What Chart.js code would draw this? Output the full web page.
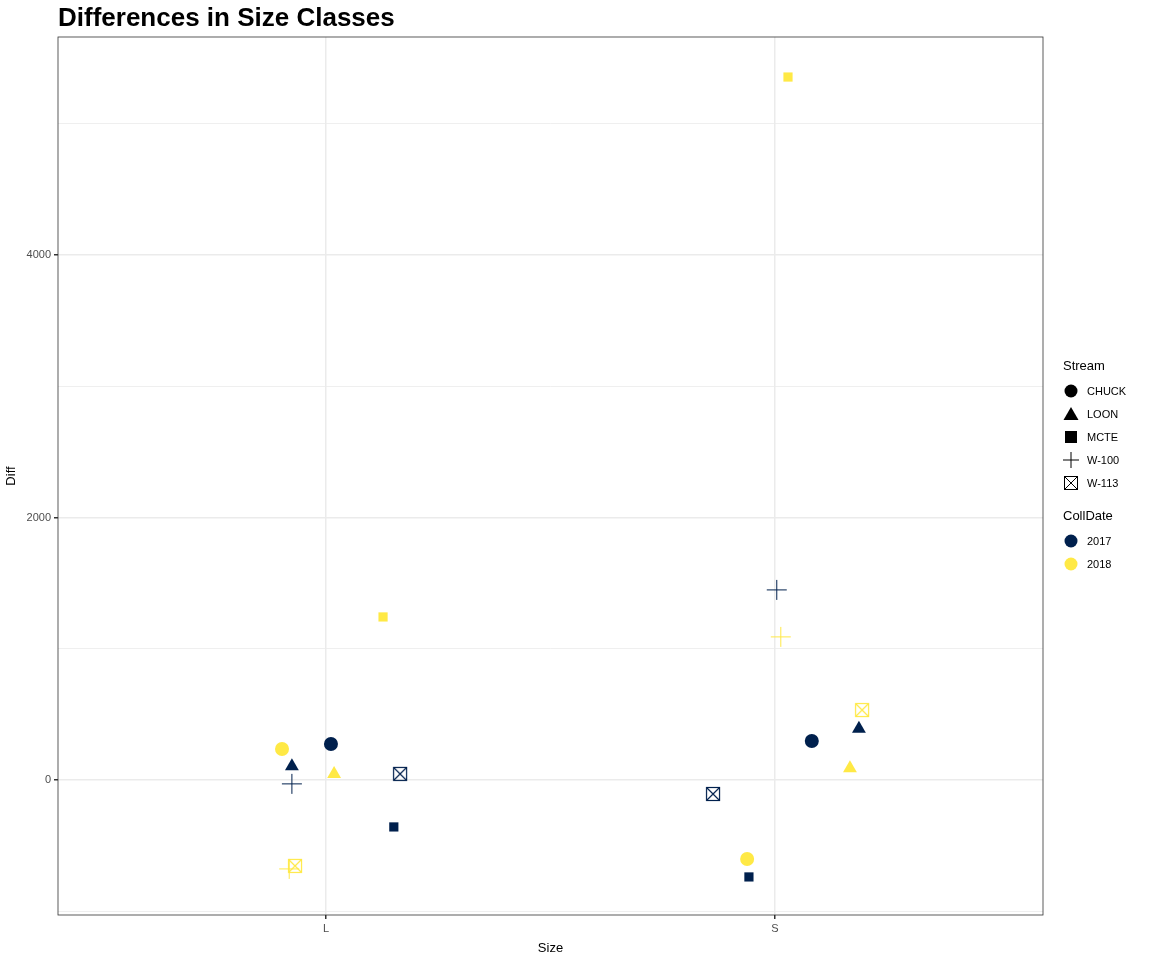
<!DOCTYPE html>
<html>
<head>
<meta charset="utf-8">
<script src="https://cdn.jsdelivr.net/npm/chart.js@4"></script>
<style>
  body { margin: 0; background: #fff; font-family: "Liberation Sans", Arial, sans-serif; }
  #wrap { position: relative; width: 1152px; height: 960px; }
  #title { position: absolute; left: 58px; top: 2px; font-size: 26px; font-weight: bold; color: #000; }
  #legend { position: absolute; left: 1063px; top: 358px; font-size: 11px; color: #000; }
  .lh { font-size: 13px; margin-bottom: 6px; }
  .li { height: 23px; display: flex; align-items: center; }
  .li svg { margin-right: 8px; }
</style>
</head>
<body>
<div id="wrap">
  <canvas id="chart" width="1152" height="960"></canvas>
  <div id="title">Differences in Size Classes</div>
  <div id="legend"></div>
</div>
<script>
const categories = ['L', 'S'];
const streams = ['CHUCK', 'LOON', 'MCTE', 'W-100', 'W-113'];
const years = ['2017', '2018'];
const yearColors = ['#00204D', '#FFE945'];

// jittered x position (1 = L, 2 = S) and Diff, per stream, per size class
const x2017 = { 'CHUCK': [1.011, 2.082], 'LOON': [0.924, 2.187], 'MCTE': [1.151, 1.942], 'W-100': [0.924, 2.004], 'W-113': [1.165, 1.862] };
const y2017 = { 'CHUCK': [274, 297], 'LOON': [105, 390], 'MCTE': [-358, -739], 'W-100': [-30, 1448], 'W-113': [46, -107] };
const x2018 = { 'CHUCK': [0.902, 1.938], 'LOON': [1.018, 2.167], 'MCTE': [1.127, 2.029], 'W-100': [0.918, 2.013], 'W-113': [0.931, 2.194] };
const y2018 = { 'CHUCK': [236, -602], 'LOON': [45, 90], 'MCTE': [1242, 5356], 'W-100': [-678, 1090], 'W-113': [-655, 533] };

const yTicks = [-1000, 0, 1000, 2000, 3000, 4000, 5000];
const yLabels = [0, 2000, 4000];

function boxX(color) {
  const c = document.createElement('canvas');
  c.width = 16; c.height = 16;
  const g = c.getContext('2d');
  g.strokeStyle = color; g.lineWidth = 1.2;
  g.strokeRect(1.5, 1.5, 13, 13);
  g.beginPath(); g.moveTo(1.5, 1.5); g.lineTo(14.5, 14.5);
  g.moveTo(14.5, 1.5); g.lineTo(1.5, 14.5); g.stroke();
  return c;
}

const styles = { 'CHUCK': 'circle', 'LOON': 'triangle', 'MCTE': 'rect', 'W-100': 'cross', 'W-113': null };
const radii = { 'CHUCK': 7, 'LOON': 8, 'MCTE': 6.5, 'W-100': 10, 'W-113': 8 };

const datasets = [];
years.forEach((yr, yi) => {
  const xs = yi === 0 ? x2017 : x2018;
  const ys = yi === 0 ? y2017 : y2018;
  const col = yearColors[yi];
  streams.forEach(s => {
    datasets.push({
      label: s + ' ' + yr,
      data: xs[s].map((x, i) => ({ x: x, y: ys[s][i] })),
      pointStyle: styles[s] || boxX(col),
      pointRadius: radii[s],
      backgroundColor: col,
      borderColor: col,
      borderWidth: styles[s] === 'cross' ? 1 : 0
    });
  });
});

const panelBorder = {
  id: 'panelBorder',
  afterDraw(chart) {
    const a = chart.chartArea, g = chart.ctx;
    g.save(); g.strokeStyle = '#333'; g.lineWidth = 0.8;
    g.strokeRect(a.left, a.top, a.right - a.left, a.bottom - a.top);
    g.restore();
  }
};

new Chart(document.getElementById('chart'), {
  type: 'scatter',
  data: { datasets },
  plugins: [panelBorder],
  options: {
    responsive: false,
    animation: false,
    layout: { padding: { top: 37, right: 109, left: 0, bottom: 0 } },
    plugins: { legend: { display: false }, tooltip: { enabled: false } },
    scales: {
      x: {
        type: 'linear', min: 0.403, max: 2.597,
        afterBuildTicks: s => { s.ticks = [{ value: 1 }, { value: 2 }]; },
        afterFit: s => { s.height = 45; },
        ticks: { callback: v => categories[v - 1], color: '#4D4D4D', font: { size: 11 }, maxRotation: 0 },
        grid: { color: '#EBEBEB', lineWidth: 1.5, tickColor: '#333', tickLength: 4 },
        border: { display: false },
        title: { display: true, text: 'Size', color: '#000', font: { size: 13 }, padding: { top: 2 } }
      },
      y: {
        min: -1029, max: 5661,
        afterBuildTicks: s => { s.ticks = yTicks.map(v => ({ value: v })); },
        afterFit: s => { s.width = 58; },
        ticks: { callback: v => yLabels.includes(v) ? String(v) : '', color: '#4D4D4D', font: { size: 11 } },
        grid: {
          color: '#EBEBEB',
          lineWidth: c => yLabels.includes(c.tick && c.tick.value) ? 1.5 : 0.8,
          tickColor: c => yLabels.includes(c.tick && c.tick.value) ? '#333' : 'rgba(0,0,0,0)',
          tickLength: 4
        },
        border: { display: false },
        title: { display: true, text: 'Diff', color: '#000', font: { size: 13 } }
      }
    }
  }
});

// legend
function sym(s, col) {
  const f = col, st = col;
  if (s === 'CHUCK') return `<circle cx="8" cy="8" r="6.5" fill="${f}"/>`;
  if (s === 'LOON') return `<polygon points="8,1 15.5,14 0.5,14" fill="${f}"/>`;
  if (s === 'MCTE') return `<rect x="2" y="2" width="12" height="12" fill="${f}"/>`;
  if (s === 'W-100') return `<path d="M8 0V16M0 8H16" stroke="${st}" stroke-width="1"/>`;
  return `<rect x="1.5" y="1.5" width="13" height="13" fill="none" stroke="${st}"/><path d="M1.5 1.5L14.5 14.5M14.5 1.5L1.5 14.5" stroke="${st}"/>`;
}
let html = '<div class="lh">Stream</div>';
streams.forEach(s => {
  html += `<div class="li"><svg width="16" height="16">${sym(s, '#000')}</svg>${s}</div>`;
});
html += '<div class="lh" style="margin-top:14px">CollDate</div>';
years.forEach((y, i) => {
  html += `<div class="li"><svg width="16" height="16">${sym('CHUCK', yearColors[i])}</svg>${y}</div>`;
});
document.getElementById('legend').innerHTML = html;
</script>
</body>
</html>
